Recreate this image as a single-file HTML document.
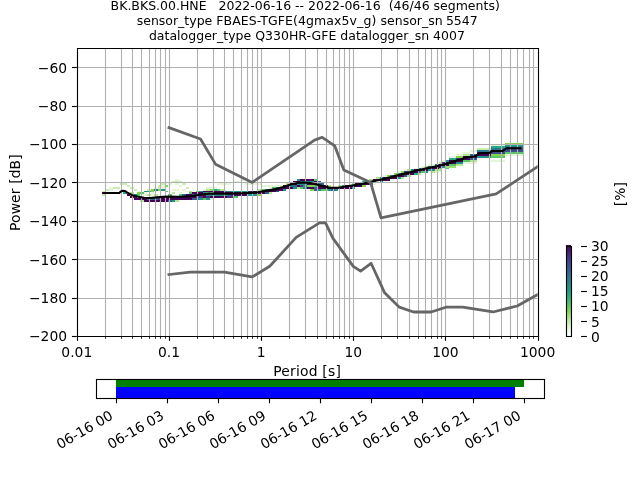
<!DOCTYPE html>
<html><head><meta charset="utf-8"><title>PPSD BK.BKS.00.HNE</title>
<style>html,body{margin:0;padding:0;background:#fff}svg{display:block}</style></head>
<body>
<svg width="640" height="480" viewBox="0 0 640 480" style="display:block">
<rect width="640" height="480" fill="#fff"/>
<defs><clipPath id="ax"><rect x="76.8" y="48" width="460.8" height="288"/></clipPath></defs>
<g shape-rendering="crispEdges">
<rect x="140" y="200" width="4" height="2" fill="#b6e592"/>
<rect x="144" y="200" width="24" height="2" fill="#440154"/>
<rect x="168" y="200" width="4" height="2" fill="#355f8d"/>
<rect x="172" y="200" width="3" height="2" fill="#21918c"/>
<rect x="175" y="200" width="4" height="2" fill="#b6e592"/>
<rect x="134" y="198" width="13" height="2" fill="#440154"/>
<rect x="147" y="198" width="11" height="2" fill="#355f8d"/>
<rect x="158" y="198" width="3" height="2" fill="#463480"/>
<rect x="161" y="198" width="31" height="2" fill="#440154"/>
<rect x="192" y="198" width="7" height="2" fill="#355f8d"/>
<rect x="199" y="198" width="4" height="2" fill="#21918c"/>
<rect x="203" y="198" width="3" height="2" fill="#58c765"/>
<rect x="206" y="198" width="4" height="2" fill="#21918c"/>
<rect x="210" y="198" width="3" height="2" fill="#e5f6d8"/>
<rect x="130" y="196" width="7" height="2" fill="#440154"/>
<rect x="161" y="196" width="35" height="2" fill="#440154"/>
<rect x="196" y="196" width="3" height="2" fill="#355f8d"/>
<rect x="199" y="196" width="4" height="2" fill="#463480"/>
<rect x="203" y="196" width="3" height="2" fill="#440154"/>
<rect x="206" y="196" width="4" height="2" fill="#463480"/>
<rect x="210" y="196" width="17" height="2" fill="#440154"/>
<rect x="227" y="196" width="7" height="2" fill="#463480"/>
<rect x="234" y="196" width="4" height="2" fill="#58c765"/>
<rect x="102" y="194" width="4" height="2" fill="#cbedb2"/>
<rect x="127" y="194" width="3" height="2" fill="#440154"/>
<rect x="134" y="194" width="3" height="2" fill="#21918c"/>
<rect x="137" y="194" width="3" height="2" fill="#58c765"/>
<rect x="140" y="194" width="7" height="2" fill="#e5f6d8"/>
<rect x="147" y="194" width="4" height="2" fill="#b6e592"/>
<rect x="151" y="194" width="3" height="2" fill="#e5f6d8"/>
<rect x="154" y="194" width="4" height="2" fill="#b6e592"/>
<rect x="168" y="194" width="4" height="2" fill="#58c765"/>
<rect x="179" y="194" width="3" height="2" fill="#58c765"/>
<rect x="182" y="194" width="4" height="2" fill="#355f8d"/>
<rect x="186" y="194" width="6" height="2" fill="#440154"/>
<rect x="192" y="194" width="4" height="2" fill="#355f8d"/>
<rect x="196" y="194" width="10" height="2" fill="#440154"/>
<rect x="206" y="194" width="21" height="2" fill="#21918c"/>
<rect x="227" y="194" width="4" height="2" fill="#355f8d"/>
<rect x="231" y="194" width="3" height="2" fill="#463480"/>
<rect x="234" y="194" width="14" height="2" fill="#440154"/>
<rect x="248" y="194" width="10" height="2" fill="#21918c"/>
<rect x="258" y="194" width="4" height="2" fill="#84d44b"/>
<rect x="102" y="192" width="18" height="2" fill="#440154"/>
<rect x="123" y="192" width="4" height="2" fill="#23a983"/>
<rect x="130" y="192" width="4" height="2" fill="#b6e592"/>
<rect x="137" y="192" width="3" height="2" fill="#84d44b"/>
<rect x="140" y="192" width="4" height="2" fill="#58c765"/>
<rect x="144" y="192" width="3" height="2" fill="#e5f6d8"/>
<rect x="151" y="192" width="3" height="2" fill="#e5f6d8"/>
<rect x="172" y="192" width="3" height="2" fill="#b6e592"/>
<rect x="179" y="192" width="3" height="2" fill="#e5f6d8"/>
<rect x="189" y="192" width="3" height="2" fill="#58c765"/>
<rect x="192" y="192" width="11" height="2" fill="#440154"/>
<rect x="203" y="192" width="3" height="2" fill="#21918c"/>
<rect x="206" y="192" width="4" height="2" fill="#58c765"/>
<rect x="210" y="192" width="3" height="2" fill="#b6e592"/>
<rect x="213" y="192" width="52" height="2" fill="#440154"/>
<rect x="265" y="192" width="4" height="2" fill="#355f8d"/>
<rect x="269" y="192" width="3" height="2" fill="#b6e592"/>
<rect x="102" y="191" width="4" height="1" fill="#cbedb2"/>
<rect x="137" y="191" width="3" height="1" fill="#e5f6d8"/>
<rect x="144" y="191" width="7" height="1" fill="#21918c"/>
<rect x="151" y="191" width="3" height="1" fill="#84d44b"/>
<rect x="154" y="191" width="4" height="1" fill="#e5f6d8"/>
<rect x="165" y="191" width="3" height="1" fill="#58c765"/>
<rect x="186" y="191" width="3" height="1" fill="#e5f6d8"/>
<rect x="189" y="191" width="3" height="1" fill="#b6e592"/>
<rect x="196" y="191" width="3" height="1" fill="#58c765"/>
<rect x="199" y="191" width="4" height="1" fill="#21918c"/>
<rect x="203" y="191" width="21" height="1" fill="#440154"/>
<rect x="224" y="191" width="7" height="1" fill="#2a788e"/>
<rect x="231" y="191" width="17" height="1" fill="#21918c"/>
<rect x="248" y="191" width="3" height="1" fill="#463480"/>
<rect x="251" y="191" width="25" height="1" fill="#440154"/>
<rect x="276" y="191" width="3" height="1" fill="#355f8d"/>
<rect x="106" y="189" width="3" height="2" fill="#cbedb2"/>
<rect x="109" y="189" width="4" height="2" fill="#e5f6d8"/>
<rect x="134" y="189" width="3" height="2" fill="#cbedb2"/>
<rect x="147" y="189" width="4" height="2" fill="#cbedb2"/>
<rect x="151" y="189" width="3" height="2" fill="#84d44b"/>
<rect x="154" y="189" width="4" height="2" fill="#2a788e"/>
<rect x="158" y="189" width="3" height="2" fill="#84d44b"/>
<rect x="161" y="189" width="4" height="2" fill="#21918c"/>
<rect x="172" y="189" width="7" height="2" fill="#e5f6d8"/>
<rect x="182" y="189" width="4" height="2" fill="#e5f6d8"/>
<rect x="203" y="189" width="3" height="2" fill="#e5f6d8"/>
<rect x="206" y="189" width="4" height="2" fill="#b6e592"/>
<rect x="210" y="189" width="3" height="2" fill="#84d44b"/>
<rect x="213" y="189" width="4" height="2" fill="#23a983"/>
<rect x="217" y="189" width="3" height="2" fill="#58c765"/>
<rect x="220" y="189" width="4" height="2" fill="#b6e592"/>
<rect x="224" y="189" width="3" height="2" fill="#e5f6d8"/>
<rect x="258" y="189" width="4" height="2" fill="#b6e592"/>
<rect x="262" y="189" width="3" height="2" fill="#58c765"/>
<rect x="265" y="189" width="4" height="2" fill="#355f8d"/>
<rect x="269" y="189" width="14" height="2" fill="#440154"/>
<rect x="283" y="189" width="3" height="2" fill="#21918c"/>
<rect x="310" y="189" width="4" height="2" fill="#84d44b"/>
<rect x="314" y="189" width="3" height="2" fill="#355f8d"/>
<rect x="317" y="189" width="4" height="2" fill="#21918c"/>
<rect x="321" y="189" width="7" height="2" fill="#58c765"/>
<rect x="328" y="189" width="3" height="2" fill="#21918c"/>
<rect x="331" y="189" width="4" height="2" fill="#355f8d"/>
<rect x="335" y="189" width="3" height="2" fill="#21918c"/>
<rect x="109" y="187" width="4" height="2" fill="#e5f6d8"/>
<rect x="113" y="187" width="7" height="2" fill="#cbedb2"/>
<rect x="130" y="187" width="4" height="2" fill="#cbedb2"/>
<rect x="154" y="187" width="4" height="2" fill="#e5f6d8"/>
<rect x="158" y="187" width="3" height="2" fill="#cbedb2"/>
<rect x="161" y="187" width="4" height="2" fill="#e5f6d8"/>
<rect x="186" y="187" width="3" height="2" fill="#cbedb2"/>
<rect x="206" y="187" width="11" height="2" fill="#e5f6d8"/>
<rect x="269" y="187" width="3" height="2" fill="#e5f6d8"/>
<rect x="272" y="187" width="4" height="2" fill="#58c765"/>
<rect x="276" y="187" width="3" height="2" fill="#355f8d"/>
<rect x="279" y="187" width="14" height="2" fill="#440154"/>
<rect x="293" y="187" width="4" height="2" fill="#21918c"/>
<rect x="297" y="187" width="3" height="2" fill="#b6e592"/>
<rect x="300" y="187" width="3" height="2" fill="#58c765"/>
<rect x="303" y="187" width="4" height="2" fill="#21918c"/>
<rect x="307" y="187" width="7" height="2" fill="#440154"/>
<rect x="314" y="187" width="3" height="2" fill="#355f8d"/>
<rect x="317" y="187" width="35" height="2" fill="#440154"/>
<rect x="352" y="187" width="3" height="2" fill="#23a983"/>
<rect x="127" y="185" width="3" height="2" fill="#cbedb2"/>
<rect x="158" y="185" width="3" height="2" fill="#cbedb2"/>
<rect x="161" y="185" width="4" height="2" fill="#e5f6d8"/>
<rect x="165" y="185" width="3" height="2" fill="#84d44b"/>
<rect x="179" y="185" width="3" height="2" fill="#e5f6d8"/>
<rect x="262" y="185" width="21" height="2" fill="#e5f6d8"/>
<rect x="283" y="185" width="7" height="2" fill="#440154"/>
<rect x="290" y="185" width="3" height="2" fill="#21918c"/>
<rect x="293" y="185" width="4" height="2" fill="#355f8d"/>
<rect x="297" y="185" width="3" height="2" fill="#440154"/>
<rect x="300" y="185" width="3" height="2" fill="#463480"/>
<rect x="303" y="185" width="4" height="2" fill="#21918c"/>
<rect x="307" y="185" width="7" height="2" fill="#84d44b"/>
<rect x="314" y="185" width="3" height="2" fill="#58c765"/>
<rect x="317" y="185" width="11" height="2" fill="#440154"/>
<rect x="328" y="185" width="3" height="2" fill="#b6e592"/>
<rect x="338" y="185" width="4" height="2" fill="#b6e592"/>
<rect x="342" y="185" width="3" height="2" fill="#21918c"/>
<rect x="345" y="185" width="17" height="2" fill="#440154"/>
<rect x="362" y="185" width="4" height="2" fill="#84d44b"/>
<rect x="120" y="183" width="7" height="2" fill="#cbedb2"/>
<rect x="161" y="183" width="4" height="2" fill="#cbedb2"/>
<rect x="168" y="183" width="4" height="2" fill="#e5f6d8"/>
<rect x="175" y="183" width="4" height="2" fill="#e5f6d8"/>
<rect x="182" y="183" width="4" height="2" fill="#cbedb2"/>
<rect x="217" y="183" width="14" height="2" fill="#e5f6d8"/>
<rect x="244" y="183" width="18" height="2" fill="#e5f6d8"/>
<rect x="286" y="183" width="4" height="2" fill="#b6e592"/>
<rect x="290" y="183" width="7" height="2" fill="#440154"/>
<rect x="297" y="183" width="10" height="2" fill="#21918c"/>
<rect x="307" y="183" width="10" height="2" fill="#440154"/>
<rect x="317" y="183" width="7" height="2" fill="#355f8d"/>
<rect x="352" y="183" width="3" height="2" fill="#b6e592"/>
<rect x="355" y="183" width="14" height="2" fill="#440154"/>
<rect x="369" y="183" width="4" height="2" fill="#355f8d"/>
<rect x="373" y="183" width="3" height="2" fill="#e5f6d8"/>
<rect x="172" y="181" width="10" height="2" fill="#cbedb2"/>
<rect x="234" y="181" width="7" height="2" fill="#e5f6d8"/>
<rect x="293" y="181" width="7" height="2" fill="#440154"/>
<rect x="300" y="181" width="14" height="2" fill="#21918c"/>
<rect x="314" y="181" width="3" height="2" fill="#440154"/>
<rect x="317" y="181" width="4" height="2" fill="#355f8d"/>
<rect x="362" y="181" width="4" height="2" fill="#23a983"/>
<rect x="366" y="181" width="10" height="2" fill="#440154"/>
<rect x="380" y="181" width="3" height="2" fill="#21918c"/>
<rect x="175" y="179" width="4" height="2" fill="#e5f6d8"/>
<rect x="241" y="179" width="3" height="2" fill="#e5f6d8"/>
<rect x="297" y="179" width="3" height="2" fill="#21918c"/>
<rect x="300" y="179" width="14" height="2" fill="#440154"/>
<rect x="314" y="179" width="3" height="2" fill="#58c765"/>
<rect x="369" y="179" width="4" height="2" fill="#b6e592"/>
<rect x="373" y="179" width="17" height="2" fill="#440154"/>
<rect x="390" y="179" width="4" height="2" fill="#e5f6d8"/>
<rect x="376" y="177" width="4" height="2" fill="#b6e592"/>
<rect x="380" y="177" width="3" height="2" fill="#21918c"/>
<rect x="383" y="177" width="14" height="2" fill="#440154"/>
<rect x="397" y="177" width="4" height="2" fill="#21918c"/>
<rect x="401" y="177" width="3" height="2" fill="#b6e592"/>
<rect x="383" y="175" width="4" height="2" fill="#e5f6d8"/>
<rect x="387" y="175" width="3" height="2" fill="#84d44b"/>
<rect x="390" y="175" width="7" height="2" fill="#355f8d"/>
<rect x="397" y="175" width="7" height="2" fill="#440154"/>
<rect x="404" y="175" width="3" height="2" fill="#355f8d"/>
<rect x="407" y="175" width="4" height="2" fill="#b6e592"/>
<rect x="394" y="173" width="3" height="2" fill="#84d44b"/>
<rect x="397" y="173" width="4" height="2" fill="#21918c"/>
<rect x="401" y="173" width="13" height="2" fill="#440154"/>
<rect x="414" y="173" width="4" height="2" fill="#23a983"/>
<rect x="418" y="173" width="3" height="2" fill="#b6e592"/>
<rect x="397" y="171" width="4" height="2" fill="#e5f6d8"/>
<rect x="401" y="171" width="3" height="2" fill="#84d44b"/>
<rect x="404" y="171" width="7" height="2" fill="#463480"/>
<rect x="411" y="171" width="7" height="2" fill="#440154"/>
<rect x="418" y="171" width="3" height="2" fill="#355f8d"/>
<rect x="421" y="171" width="4" height="2" fill="#58c765"/>
<rect x="425" y="171" width="3" height="2" fill="#21918c"/>
<rect x="428" y="171" width="4" height="2" fill="#e5f6d8"/>
<rect x="432" y="171" width="3" height="2" fill="#b6e592"/>
<rect x="435" y="171" width="7" height="2" fill="#e5f6d8"/>
<rect x="404" y="169" width="3" height="2" fill="#e5f6d8"/>
<rect x="407" y="169" width="4" height="2" fill="#b6e592"/>
<rect x="411" y="169" width="3" height="2" fill="#21918c"/>
<rect x="414" y="169" width="14" height="2" fill="#440154"/>
<rect x="428" y="169" width="7" height="2" fill="#21918c"/>
<rect x="435" y="169" width="7" height="2" fill="#b6e592"/>
<rect x="414" y="168" width="4" height="1" fill="#e5f6d8"/>
<rect x="418" y="168" width="3" height="1" fill="#21918c"/>
<rect x="425" y="168" width="14" height="1" fill="#440154"/>
<rect x="439" y="168" width="3" height="1" fill="#58c765"/>
<rect x="442" y="168" width="4" height="1" fill="#e5f6d8"/>
<rect x="446" y="168" width="3" height="1" fill="#58c765"/>
<rect x="421" y="166" width="4" height="2" fill="#e5f6d8"/>
<rect x="425" y="166" width="3" height="2" fill="#84d44b"/>
<rect x="428" y="166" width="4" height="2" fill="#355f8d"/>
<rect x="432" y="166" width="10" height="2" fill="#440154"/>
<rect x="442" y="166" width="4" height="2" fill="#21918c"/>
<rect x="446" y="166" width="10" height="2" fill="#a1de72"/>
<rect x="428" y="164" width="7" height="2" fill="#e5f6d8"/>
<rect x="435" y="164" width="4" height="2" fill="#355f8d"/>
<rect x="439" y="164" width="10" height="2" fill="#440154"/>
<rect x="449" y="164" width="7" height="2" fill="#58c765"/>
<rect x="456" y="164" width="7" height="2" fill="#b6e592"/>
<rect x="439" y="162" width="3" height="2" fill="#b6e592"/>
<rect x="442" y="162" width="4" height="2" fill="#463480"/>
<rect x="446" y="162" width="10" height="2" fill="#440154"/>
<rect x="456" y="162" width="7" height="2" fill="#21918c"/>
<rect x="463" y="162" width="14" height="2" fill="#e5f6d8"/>
<rect x="442" y="160" width="4" height="2" fill="#e5f6d8"/>
<rect x="446" y="160" width="3" height="2" fill="#21918c"/>
<rect x="449" y="160" width="14" height="2" fill="#440154"/>
<rect x="463" y="160" width="7" height="2" fill="#58c765"/>
<rect x="470" y="160" width="7" height="2" fill="#b6e592"/>
<rect x="491" y="160" width="14" height="2" fill="#e5f6d8"/>
<rect x="449" y="158" width="7" height="2" fill="#23a983"/>
<rect x="456" y="158" width="7" height="2" fill="#463480"/>
<rect x="463" y="158" width="7" height="2" fill="#440154"/>
<rect x="470" y="158" width="7" height="2" fill="#355f8d"/>
<rect x="449" y="156" width="7" height="2" fill="#e5f6d8"/>
<rect x="456" y="156" width="7" height="2" fill="#84d44b"/>
<rect x="463" y="156" width="14" height="2" fill="#440154"/>
<rect x="477" y="156" width="14" height="2" fill="#21918c"/>
<rect x="491" y="156" width="14" height="2" fill="#58c765"/>
<rect x="456" y="154" width="7" height="2" fill="#e5f6d8"/>
<rect x="463" y="154" width="7" height="2" fill="#b6e592"/>
<rect x="470" y="154" width="7" height="2" fill="#355f8d"/>
<rect x="477" y="154" width="14" height="2" fill="#440154"/>
<rect x="491" y="154" width="14" height="2" fill="#84d44b"/>
<rect x="505" y="154" width="18" height="2" fill="#e5f6d8"/>
<rect x="463" y="152" width="7" height="2" fill="#e5f6d8"/>
<rect x="477" y="152" width="14" height="2" fill="#440154"/>
<rect x="491" y="152" width="14" height="2" fill="#3d4d8a"/>
<rect x="505" y="152" width="18" height="2" fill="#58c765"/>
<rect x="470" y="150" width="7" height="2" fill="#e5f6d8"/>
<rect x="477" y="150" width="14" height="2" fill="#2a788e"/>
<rect x="491" y="150" width="14" height="2" fill="#355f8d"/>
<rect x="505" y="150" width="18" height="2" fill="#3d4d8a"/>
<rect x="477" y="148" width="14" height="2" fill="#cbedb2"/>
<rect x="491" y="148" width="14" height="2" fill="#2a788e"/>
<rect x="505" y="148" width="18" height="2" fill="#3d4d8a"/>
<rect x="491" y="146" width="14" height="2" fill="#23a983"/>
<rect x="505" y="146" width="18" height="2" fill="#2a788e"/>
<rect x="491" y="144" width="14" height="2" fill="#e5f6d8"/>
<rect x="505" y="144" width="18" height="2" fill="#23a983"/>
<rect x="505" y="143" width="18" height="1" fill="#84d44b"/>
</g>
<g stroke="#b0b0b0" stroke-width="1.11" fill="none">
<path d="M105.5 48V336"/>
<path d="M121.5 48V336"/>
<path d="M132.5 48V336"/>
<path d="M141.5 48V336"/>
<path d="M149.5 48V336"/>
<path d="M155.5 48V336"/>
<path d="M160.5 48V336"/>
<path d="M165.5 48V336"/>
<path d="M169.5 48V336"/>
<path d="M197.5 48V336"/>
<path d="M213.5 48V336"/>
<path d="M224.5 48V336"/>
<path d="M233.5 48V336"/>
<path d="M241.5 48V336"/>
<path d="M247.5 48V336"/>
<path d="M252.5 48V336"/>
<path d="M257.5 48V336"/>
<path d="M261.5 48V336"/>
<path d="M289.5 48V336"/>
<path d="M305.5 48V336"/>
<path d="M317.5 48V336"/>
<path d="M326.5 48V336"/>
<path d="M333.5 48V336"/>
<path d="M339.5 48V336"/>
<path d="M344.5 48V336"/>
<path d="M349.5 48V336"/>
<path d="M353.5 48V336"/>
<path d="M381.5 48V336"/>
<path d="M397.5 48V336"/>
<path d="M409.5 48V336"/>
<path d="M418.5 48V336"/>
<path d="M425.5 48V336"/>
<path d="M431.5 48V336"/>
<path d="M437.5 48V336"/>
<path d="M441.5 48V336"/>
<path d="M445.5 48V336"/>
<path d="M473.5 48V336"/>
<path d="M489.5 48V336"/>
<path d="M501.5 48V336"/>
<path d="M510.5 48V336"/>
<path d="M517.5 48V336"/>
<path d="M523.5 48V336"/>
<path d="M529.5 48V336"/>
<path d="M533.5 48V336"/>
<path d="M76.8 298.5H537.6"/>
<path d="M76.8 259.5H537.6"/>
<path d="M76.8 221.5H537.6"/>
<path d="M76.8 182.5H537.6"/>
<path d="M76.8 144.5H537.6"/>
<path d="M76.8 106.5H537.6"/>
<path d="M76.8 67.5H537.6"/>
</g>
<g clip-path="url(#ax)" fill="none" stroke-linejoin="round">
<polyline points="104.50,193.00 119.25,193.00 120.81,191.44 123.00,190.69 125.19,190.94 127.38,192.69 131.75,195.00 138.00,196.75 144.25,197.69 150.50,198.00 156.75,197.38 163.00,196.75 169.25,196.62 178.00,196.69 184.25,196.62 190.50,196.25 196.75,195.31 203.00,194.19 209.25,193.62 218.00,193.50 230.50,193.62 243.00,193.25 258.00,192.25 264.25,191.00 270.50,190.12 276.75,188.88 283.00,187.06 289.25,185.06 295.50,183.50 298.00,182.81 304.25,182.56 310.50,183.00 316.75,184.50 323.00,186.25 329.25,187.62 338.00,187.69 344.25,186.69 350.50,185.75 356.75,184.75 363.00,183.69 369.25,182.06 378.00,180.31 384.25,178.88 390.50,177.25 396.75,175.62 403.00,174.06 409.25,172.62 418.00,170.25 424.25,168.81 430.50,167.62 436.75,166.31 443.00,164.69 449.25,162.88 455.50,161.00 458.00,160.06 462.38,159.12 464.25,157.56 469.88,156.94 473.62,156.62 476.75,155.38 479.25,153.19 489.25,152.88 492.38,151.00 494.00,150.94 502.75,150.94 506.50,148.25 520.44,148.25" stroke="#000" stroke-width="2.08" stroke-linecap="square"/>
<polyline points="168.96,274.56 190.20,272.06 224.45,272.06 252.19,276.87 269.73,266.30 296.16,237.40 319.50,222.91 325.54,222.90 332.83,238.08 353.28,266.40 360.58,271.19 371.08,263.29 384.66,292.81 399.33,307.19 413.48,312.00 431.16,312.00 445.84,307.20 462.72,307.18 492.98,311.98 517.15,306.01 629.76,243.61" stroke="#666" stroke-width="2.78" stroke-linecap="square"/>
<polyline points="168.96,127.68 200.52,139.02 215.51,164.16 252.19,182.40 314.55,140.16 322.20,137.28 334.79,145.92 343.85,169.91 370.56,182.40 381.02,217.91 496.13,193.93 629.76,105.87" stroke="#666" stroke-width="2.78" stroke-linecap="square"/>
</g>
<g stroke="#000" stroke-width="1.11" fill="none" stroke-linecap="square">
<path d="M77.5 48.5H538.5V336.5H77.5Z"/>
</g>
<g stroke="#000" fill="none">
<path d="M77.5 336v4.86" stroke-width="1.11"/>
<path d="M105.5 336v2.78" stroke-width="0.83"/>
<path d="M121.5 336v2.78" stroke-width="0.83"/>
<path d="M132.5 336v2.78" stroke-width="0.83"/>
<path d="M141.5 336v2.78" stroke-width="0.83"/>
<path d="M149.5 336v2.78" stroke-width="0.83"/>
<path d="M155.5 336v2.78" stroke-width="0.83"/>
<path d="M160.5 336v2.78" stroke-width="0.83"/>
<path d="M165.5 336v2.78" stroke-width="0.83"/>
<path d="M169.5 336v4.86" stroke-width="1.11"/>
<path d="M197.5 336v2.78" stroke-width="0.83"/>
<path d="M213.5 336v2.78" stroke-width="0.83"/>
<path d="M224.5 336v2.78" stroke-width="0.83"/>
<path d="M233.5 336v2.78" stroke-width="0.83"/>
<path d="M241.5 336v2.78" stroke-width="0.83"/>
<path d="M247.5 336v2.78" stroke-width="0.83"/>
<path d="M252.5 336v2.78" stroke-width="0.83"/>
<path d="M257.5 336v2.78" stroke-width="0.83"/>
<path d="M261.5 336v4.86" stroke-width="1.11"/>
<path d="M289.5 336v2.78" stroke-width="0.83"/>
<path d="M305.5 336v2.78" stroke-width="0.83"/>
<path d="M317.5 336v2.78" stroke-width="0.83"/>
<path d="M326.5 336v2.78" stroke-width="0.83"/>
<path d="M333.5 336v2.78" stroke-width="0.83"/>
<path d="M339.5 336v2.78" stroke-width="0.83"/>
<path d="M344.5 336v2.78" stroke-width="0.83"/>
<path d="M349.5 336v2.78" stroke-width="0.83"/>
<path d="M353.5 336v4.86" stroke-width="1.11"/>
<path d="M381.5 336v2.78" stroke-width="0.83"/>
<path d="M397.5 336v2.78" stroke-width="0.83"/>
<path d="M409.5 336v2.78" stroke-width="0.83"/>
<path d="M418.5 336v2.78" stroke-width="0.83"/>
<path d="M425.5 336v2.78" stroke-width="0.83"/>
<path d="M431.5 336v2.78" stroke-width="0.83"/>
<path d="M437.5 336v2.78" stroke-width="0.83"/>
<path d="M441.5 336v2.78" stroke-width="0.83"/>
<path d="M445.5 336v4.86" stroke-width="1.11"/>
<path d="M473.5 336v2.78" stroke-width="0.83"/>
<path d="M489.5 336v2.78" stroke-width="0.83"/>
<path d="M501.5 336v2.78" stroke-width="0.83"/>
<path d="M510.5 336v2.78" stroke-width="0.83"/>
<path d="M517.5 336v2.78" stroke-width="0.83"/>
<path d="M523.5 336v2.78" stroke-width="0.83"/>
<path d="M529.5 336v2.78" stroke-width="0.83"/>
<path d="M533.5 336v2.78" stroke-width="0.83"/>
<path d="M538.5 336v4.86" stroke-width="1.11"/>
<path d="M76.8 336.5h-4.86" stroke-width="1.11"/>
<path d="M76.8 298.5h-4.86" stroke-width="1.11"/>
<path d="M76.8 259.5h-4.86" stroke-width="1.11"/>
<path d="M76.8 221.5h-4.86" stroke-width="1.11"/>
<path d="M76.8 182.5h-4.86" stroke-width="1.11"/>
<path d="M76.8 144.5h-4.86" stroke-width="1.11"/>
<path d="M76.8 106.5h-4.86" stroke-width="1.11"/>
<path d="M76.8 67.5h-4.86" stroke-width="1.11"/>
</g>
<g font-family="DejaVu Sans, Liberation Sans, sans-serif" font-size="13.89" fill="#000">
<text x="67.1" y="341.30" text-anchor="end">−200</text>
<text x="67.1" y="302.90" text-anchor="end">−180</text>
<text x="67.1" y="264.50" text-anchor="end">−160</text>
<text x="67.1" y="226.10" text-anchor="end">−140</text>
<text x="67.1" y="187.70" text-anchor="end">−120</text>
<text x="67.1" y="149.30" text-anchor="end">−100</text>
<text x="67.1" y="110.90" text-anchor="end">−80</text>
<text x="67.1" y="72.50" text-anchor="end">−60</text>
<text x="76.80" y="357.3" text-anchor="middle">0.01</text>
<text x="168.96" y="357.3" text-anchor="middle">0.1</text>
<text x="261.12" y="357.3" text-anchor="middle">1</text>
<text x="353.28" y="357.3" text-anchor="middle">10</text>
<text x="445.44" y="357.3" text-anchor="middle">100</text>
<text x="537.60" y="357.3" text-anchor="middle">1000</text>
<text x="307.05" y="375.6" text-anchor="middle" textLength="67.5" lengthAdjust="spacing">Period [s]</text>
<text transform="translate(20.3 192.65) rotate(-90)" text-anchor="middle" textLength="76.6" lengthAdjust="spacing">Power [dB]</text>
<text transform="translate(625.4 194.2) rotate(-90)" text-anchor="middle">[%]</text>
<text x="591" y="341.75">0</text>
<text x="591" y="326.60">5</text>
<text x="591" y="311.45">10</text>
<text x="591" y="296.30">15</text>
<text x="591" y="281.15">20</text>
<text x="591" y="266.00">25</text>
<text x="591" y="250.85">30</text>
<text transform="translate(113.96 418.3) rotate(-30)" text-anchor="end">06-16 00</text>
<text transform="translate(164.96 418.3) rotate(-30)" text-anchor="end">06-16 03</text>
<text transform="translate(215.96 418.3) rotate(-30)" text-anchor="end">06-16 06</text>
<text transform="translate(266.96 418.3) rotate(-30)" text-anchor="end">06-16 09</text>
<text transform="translate(317.96 418.3) rotate(-30)" text-anchor="end">06-16 12</text>
<text transform="translate(368.96 418.3) rotate(-30)" text-anchor="end">06-16 15</text>
<text transform="translate(419.96 418.3) rotate(-30)" text-anchor="end">06-16 18</text>
<text transform="translate(470.96 418.3) rotate(-30)" text-anchor="end">06-16 21</text>
<text transform="translate(521.96 418.3) rotate(-30)" text-anchor="end">06-17 00</text>
</g>
<g font-family="DejaVu Sans, Liberation Sans, sans-serif" font-size="12.5" fill="#000" text-anchor="middle">
<text y="24.67" text-anchor="start"><tspan x="136.7">sensor_type</tspan> <tspan x="216.3" textLength="160.0" lengthAdjust="spacing">FBAES-TGFE(4gmax5v_g)</tspan> <tspan x="380.55">sensor_sn</tspan> <tspan x="445.9">5547</tspan></text>
<text x="305.2" y="9.67" xml:space="preserve">BK.BKS.00.HNE   2022-06-16 -- 2022-06-16  (46/46 segments)</text>
<text x="306.9" y="39.67" xml:space="preserve" textLength="316.0" lengthAdjust="spacing">datalogger_type Q330HR-GFE datalogger_sn 4007</text>
</g>
<defs><linearGradient id="cb" x1="0" y1="1" x2="0" y2="0">
<stop offset="0.0000" stop-color="#ffffff"/>
<stop offset="0.0167" stop-color="#fdfefc"/>
<stop offset="0.0333" stop-color="#f9fdf6"/>
<stop offset="0.0500" stop-color="#f5fbef"/>
<stop offset="0.0667" stop-color="#eff9e7"/>
<stop offset="0.0833" stop-color="#e9f7de"/>
<stop offset="0.1000" stop-color="#e2f5d4"/>
<stop offset="0.1167" stop-color="#dbf2c9"/>
<stop offset="0.1333" stop-color="#d4f0be"/>
<stop offset="0.1500" stop-color="#cbedb2"/>
<stop offset="0.1667" stop-color="#c3eaa5"/>
<stop offset="0.1833" stop-color="#bae797"/>
<stop offset="0.2000" stop-color="#b1e48a"/>
<stop offset="0.2167" stop-color="#a7e07b"/>
<stop offset="0.2333" stop-color="#9ddd6c"/>
<stop offset="0.2500" stop-color="#93d95d"/>
<stop offset="0.2667" stop-color="#88d54d"/>
<stop offset="0.2833" stop-color="#7fd34e"/>
<stop offset="0.3000" stop-color="#73d056"/>
<stop offset="0.3167" stop-color="#67cc5c"/>
<stop offset="0.3333" stop-color="#5cc863"/>
<stop offset="0.3500" stop-color="#52c569"/>
<stop offset="0.3667" stop-color="#4ac16d"/>
<stop offset="0.3833" stop-color="#40bd72"/>
<stop offset="0.4000" stop-color="#38b977"/>
<stop offset="0.4167" stop-color="#31b57b"/>
<stop offset="0.4333" stop-color="#2ab07f"/>
<stop offset="0.4500" stop-color="#26ad81"/>
<stop offset="0.4667" stop-color="#22a884"/>
<stop offset="0.4833" stop-color="#20a386"/>
<stop offset="0.5000" stop-color="#1f9f88"/>
<stop offset="0.5167" stop-color="#1f9a8a"/>
<stop offset="0.5333" stop-color="#1f968b"/>
<stop offset="0.5500" stop-color="#20928c"/>
<stop offset="0.5667" stop-color="#228d8d"/>
<stop offset="0.5833" stop-color="#23888e"/>
<stop offset="0.6000" stop-color="#25848e"/>
<stop offset="0.6167" stop-color="#27808e"/>
<stop offset="0.6333" stop-color="#297b8e"/>
<stop offset="0.6500" stop-color="#2a768e"/>
<stop offset="0.6667" stop-color="#2c718e"/>
<stop offset="0.6833" stop-color="#2e6e8e"/>
<stop offset="0.7000" stop-color="#30698e"/>
<stop offset="0.7167" stop-color="#32648e"/>
<stop offset="0.7333" stop-color="#355f8d"/>
<stop offset="0.7500" stop-color="#375a8c"/>
<stop offset="0.7667" stop-color="#39558c"/>
<stop offset="0.7833" stop-color="#3c508b"/>
<stop offset="0.8000" stop-color="#3e4a89"/>
<stop offset="0.8167" stop-color="#404588"/>
<stop offset="0.8333" stop-color="#423f85"/>
<stop offset="0.8500" stop-color="#443a83"/>
<stop offset="0.8667" stop-color="#463480"/>
<stop offset="0.8833" stop-color="#472e7c"/>
<stop offset="0.9000" stop-color="#482878"/>
<stop offset="0.9167" stop-color="#482173"/>
<stop offset="0.9333" stop-color="#481c6e"/>
<stop offset="0.9500" stop-color="#481668"/>
<stop offset="0.9667" stop-color="#470e61"/>
<stop offset="0.9833" stop-color="#46075a"/>
<stop offset="1.0000" stop-color="#440154"/>
</linearGradient></defs>
<rect x="566" y="245" width="5" height="91.5" fill="url(#cb)"/>
<rect x="566.5" y="246.5" width="5" height="90" fill="none" stroke="#000" stroke-width="1.11"/>
<g stroke="#000" stroke-width="1.11">
<path d="M581.1 336.5h5.8"/>
<path d="M581.1 321.5h5.8"/>
<path d="M581.1 306.5h5.8"/>
<path d="M581.1 291.5h5.8"/>
<path d="M581.1 276.5h5.8"/>
<path d="M581.1 261.5h5.8"/>
<path d="M581.1 246.5h5.8"/>
</g>
<g shape-rendering="crispEdges"><rect x="116" y="379" width="408" height="8" fill="#008000"/><rect x="116" y="387" width="399" height="11.5" fill="#0000ff"/></g>
<rect x="96.5" y="379.5" width="448.0" height="19.0" fill="none" stroke="#000" stroke-width="1.11"/>
<g stroke="#000" stroke-width="1.11">
<path d="M116.5 398.4v4.86"/>
<path d="M167.5 398.4v4.86"/>
<path d="M218.5 398.4v4.86"/>
<path d="M269.5 398.4v4.86"/>
<path d="M320.5 398.4v4.86"/>
<path d="M371.5 398.4v4.86"/>
<path d="M422.5 398.4v4.86"/>
<path d="M473.5 398.4v4.86"/>
<path d="M524.5 398.4v4.86"/>
</g>
</svg>
</body></html>
